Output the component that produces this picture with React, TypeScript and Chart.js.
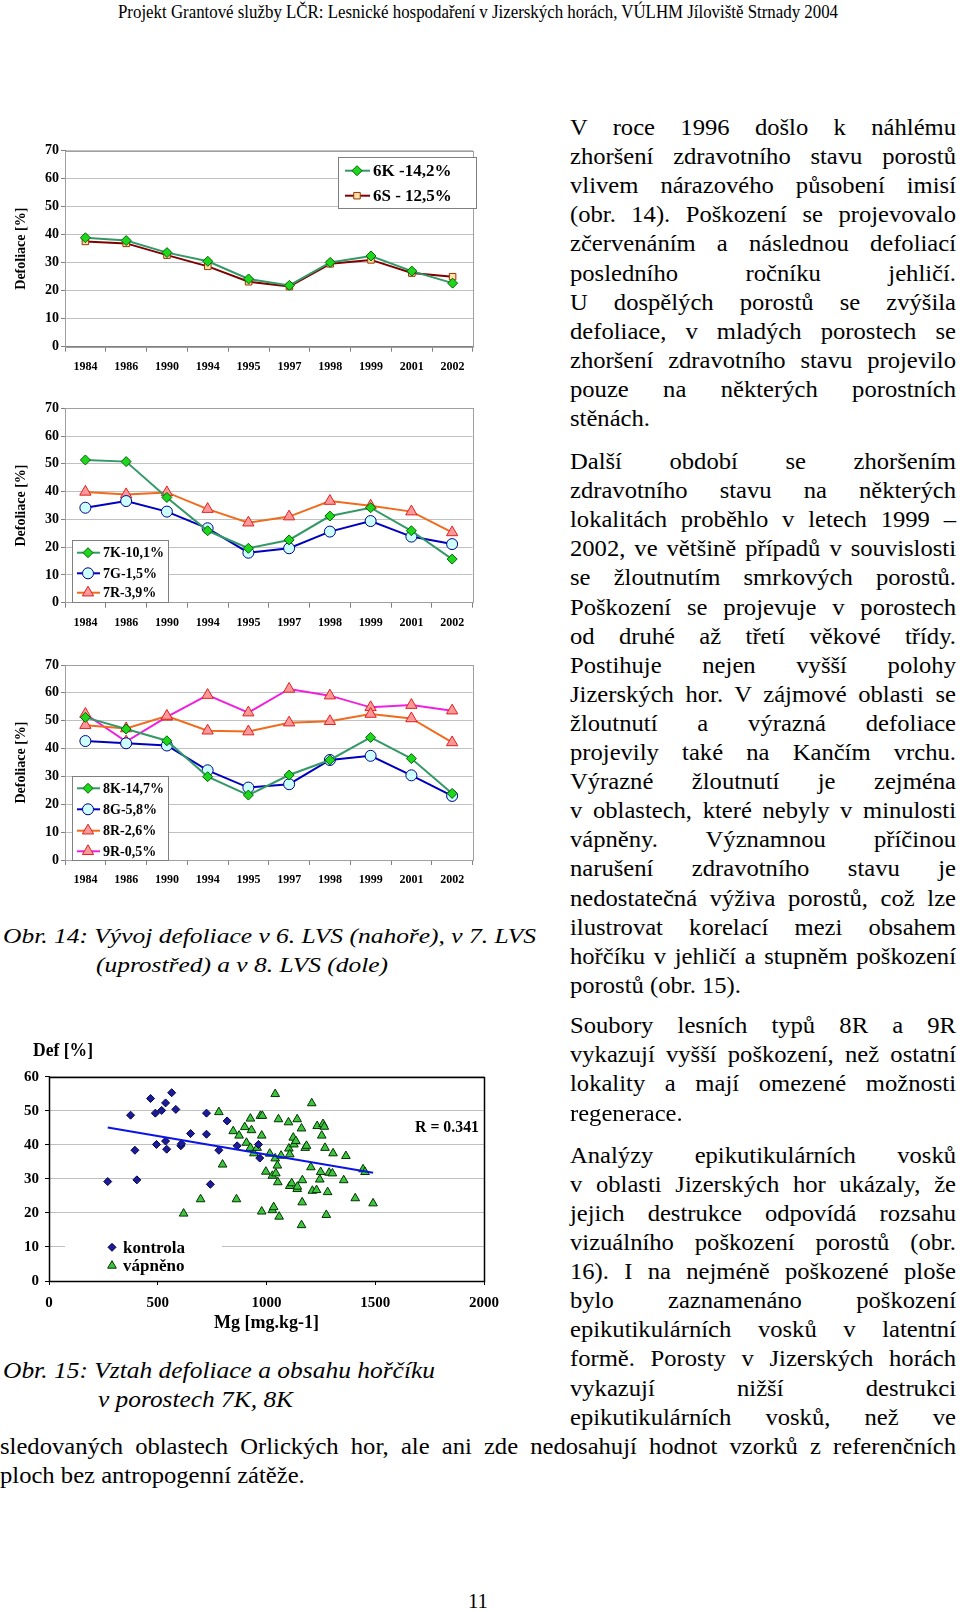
import React, { useEffect, useLayoutEffect, useRef } from 'react';
import { Chart, registerables } from 'chart.js';
Chart.register(...registerables);

const FONT = '"Liberation Serif", "Times New Roman", Times, serif';
Chart.defaults.font.family = FONT;

// ---------- data ----------
const years = ['1984', '1986', '1990', '1994', '1995', '1997', '1998', '1999', '2001', '2002'];
const def6K = [38.9, 37.9, 33.6, 30.5, 24.2, 21.9, 30.1, 32.4, 27.0, 22.7];
const def6S = [37.6, 36.9, 32.7, 28.7, 23.2, 21.5, 29.6, 31.0, 26.3, 25.0];
const def7K = [51.4, 50.8, 37.9, 25.9, 19.6, 22.6, 31.2, 34.2, 25.9, 15.7];
const def7G = [34.2, 36.6, 32.8, 26.8, 18.0, 19.6, 25.6, 29.4, 23.8, 21.1];
const def7R = [39.9, 39.0, 39.7, 33.7, 28.8, 31.0, 36.6, 34.9, 32.8, 25.3];
const def8K = [51.2, 47.0, 42.8, 29.9, 23.3, 30.5, 35.9, 44.0, 36.4, 23.9];
const def8G = [42.7, 41.9, 41.1, 32.2, 26.0, 27.2, 35.9, 37.4, 30.4, 23.0];
const def8R = [48.4, 47.2, 51.7, 46.4, 46.1, 49.3, 49.8, 52.4, 50.8, 42.2];
const def9R = [52.4, 42.5, 51.4, 59.2, 52.9, 61.4, 59.0, 54.8, 55.6, 53.6];
const defAxisMax = 70;
const defAxisStep = 10;

const kontrolaMg = [270, 375, 395, 404, 467, 489, 494, 518, 536, 536, 541, 564, 583, 606, 609, 651, 724, 724, 742, 781, 819, 865, 963, 969];
const kontrolaDef = [29.2, 48.7, 38.4, 29.7, 53.6, 49.3, 40.1, 50.1, 52.3, 41.1, 38.7, 55.3, 50.4, 39.7, 40.3, 43.3, 49.3, 43.1, 28.4, 38.4, 47.0, 39.7, 40.1, 36.1];
const vapnenoMg = [619, 697, 781, 798, 847, 862, 874, 900, 908, 926, 931, 926, 942, 957, 972, 981, 978, 978, 997, 1015, 1027, 1027, 1033, 1040, 1040, 1043, 1050, 1052, 1055, 1058, 1067, 1101, 1103, 1107, 1107, 1116, 1123, 1126, 1135, 1141, 1141, 1142, 1161, 1164, 1161, 1165, 1178, 1184, 1204, 1208, 1211, 1230, 1233, 1245, 1249, 1254, 1260, 1266, 1269, 1275, 1281, 1288, 1303, 1306, 1355, 1365, 1408, 1444, 1453, 1490];
const vapnenoDef = [19.8, 24.0, 49.6, 34.2, 44.0, 24.0, 42.7, 45.2, 40.6, 47.7, 44.3, 39.1, 37.5, 39.1, 48.5, 48.5, 42.7, 20.4, 32.1, 37.4, 30.9, 20.8, 21.7, 54.9, 36.0, 31.6, 33.9, 29.0, 47.5, 18.9, 36.8, 46.6, 38.9, 37.2, 27.9, 28.7, 42.1, 40.1, 41.1, 47.5, 27.0, 27.7, 44.8, 23.1, 16.4, 29.6, 39.1, 39.7, 33.4, 52.2, 26.5, 26.7, 45.5, 29.8, 32.0, 42.7, 46.1, 45.3, 39.1, 19.4, 26.1, 31.8, 31.6, 37.5, 29.6, 36.7, 24.3, 32.8, 32.0, 22.8];
const trendMg = [270, 1490];
const trendDef = [45.1, 31.8];
const mgAxisMax = 2000;
const mgAxisStep = 500;
const scatterDefMax = 60;

// ---------- styles ----------
const stK = { color: '#339966', pointStyle: 'rectRot', radius: 5, fill: '#1fd61f', stroke: '#006600' };
const stS = { color: '#800000', pointStyle: 'rect', radius: 4.6, fill: '#ffe0a6', stroke: '#993300' };
const stG = { color: '#0000c0', pointStyle: 'circle', radius: 5.5, fill: '#ccffff', stroke: '#000090' };
const stR = { color: '#f26b1d', pointStyle: 'triangle', radius: 6.5, fill: '#ff9999', stroke: '#e02020' };
const st9R = { color: '#f020e0', pointStyle: 'triangle', radius: 6.5, fill: '#ff9999', stroke: '#e02020' };

function drawMarker(ctx: CanvasRenderingContext2D, style: string, r: number, fill: string, stroke: string, x: number, y: number) {
  ctx.beginPath();
  if (style === 'rectRot') {
    ctx.moveTo(x, y - r); ctx.lineTo(x + r, y); ctx.lineTo(x, y + r); ctx.lineTo(x - r, y); ctx.closePath();
  } else if (style === 'rect') {
    const s = r * Math.SQRT1_2; ctx.rect(x - s, y - s, 2 * s, 2 * s);
  } else if (style === 'circle') {
    ctx.arc(x, y, r, 0, Math.PI * 2);
  } else if (style === 'triangle') {
    ctx.moveTo(x, y - r);
    ctx.lineTo(x + r * Math.sin(2 * Math.PI / 3), y - r * Math.cos(2 * Math.PI / 3));
    ctx.lineTo(x + r * Math.sin(4 * Math.PI / 3), y - r * Math.cos(4 * Math.PI / 3));
    ctx.closePath();
  }
  ctx.fillStyle = fill; ctx.fill();
  ctx.lineWidth = 1; ctx.strokeStyle = stroke; ctx.stroke();
}

const framePlugin = {
  id: 'frame',
  beforeDatasetsDraw(chart: any, _a: any, o: any) {
    if (!o || !o.color) return;
    const { ctx, chartArea } = chart;
    ctx.save();
    ctx.strokeStyle = o.color; ctx.lineWidth = o.width || 1;
    ctx.strokeRect(Math.round(chartArea.left) + 0.5, Math.round(chartArea.top) + 0.5,
      Math.round(chartArea.right - chartArea.left), Math.round(chartArea.bottom - chartArea.top));
    ctx.restore();
  },
};

const boxLegendPlugin = {
  id: 'boxLegend',
  afterDraw(chart: any, _a: any, o: any) {
    if (!o || !o.items) return;
    const ctx: CanvasRenderingContext2D = chart.ctx;
    ctx.save();
    const [bx0, by0, bx1, by1] = o.box;
    ctx.fillStyle = '#fff';
    ctx.fillRect(bx0, by0, bx1 - bx0, by1 - by0);
    if (o.stroke) { ctx.strokeStyle = o.stroke; ctx.lineWidth = 1; ctx.strokeRect(bx0 + 0.5, by0 + 0.5, bx1 - bx0, by1 - by0); }
    o.items.forEach((di: number, i: number) => {
      const ds = chart.data.datasets[di];
      const y = o.itemY[i];
      if (o.line) {
        ctx.beginPath(); ctx.strokeStyle = ds.borderColor; ctx.lineWidth = ds.borderWidth || 2;
        ctx.moveTo(o.line[0], y); ctx.lineTo(o.line[1], y); ctx.stroke();
      }
      drawMarker(ctx, ds.pointStyle, ds.pointRadius, ds.pointBackgroundColor, ds.pointBorderColor, o.markerX, y);
      ctx.fillStyle = '#000'; ctx.font = o.font; ctx.textBaseline = 'middle'; ctx.textAlign = 'left';
      ctx.fillText(ds.label, o.textX, y + 1);
    });
    ctx.restore();
  },
};

function lineDs(label: string, data: number[], st: any) {
  return {
    label, data, borderColor: st.color, borderWidth: 2, pointStyle: st.pointStyle, pointRadius: st.radius,
    pointBackgroundColor: st.fill, pointBorderColor: st.stroke, pointBorderWidth: 1, tension: 0, fill: false,
  };
}

function lineConfig(datasets: any[], padTop: number, xH: number, legend: any) {
  return {
    type: 'line',
    data: { labels: years, datasets },
    options: {
      responsive: false, animation: false,
      layout: { padding: { left: 0, right: 7, top: padTop, bottom: 0 } },
      plugins: { legend: { display: false }, tooltip: { enabled: false }, frame: { color: '#a0a0a0' }, boxLegend: legend },
      scales: {
        x: {
          offset: true,
          grid: { offset: true, drawOnChartArea: false, tickLength: 5, color: '#808080' },
          border: { color: '#808080' },
          ticks: { font: { family: FONT, size: 12, weight: 'bold' }, color: '#000', padding: 8, maxRotation: 0, autoSkip: false },
          afterFit: (s: any) => { s.height = xH; },
        },
        y: {
          min: 0, max: defAxisMax,
          ticks: { stepSize: defAxisStep, font: { family: FONT, size: 14, weight: 'bold' }, color: '#000', padding: 2 },
          grid: { color: '#c0c0c0', tickColor: '#808080', tickLength: 4 },
          border: { color: '#808080' },
          title: { display: true, text: 'Defoliace [%]', color: '#000', font: { family: FONT, size: 14, weight: 'bold' }, padding: { top: 13, bottom: 0 } },
          afterFit: (s: any) => { s.width = 65; },
        },
      },
    },
    plugins: [framePlugin, boxLegendPlugin],
  };
}

function chart1Config() {
  return lineConfig([lineDs('6K -14,2%', def6K, stK), lineDs('6S - 12,5%', def6S, stS)], 10.7, 33.3,
    { box: [338, 17, 476, 68], stroke: '#808080', items: [0, 1], itemY: [30.7, 55.7], line: [345, 370], markerX: 357, textX: 373, font: `bold 17px ${FONT}` });
}
function chart2Config() {
  return lineConfig([lineDs('7K-10,1%', def7K, stK), lineDs('7G-1,5%', def7G, stG), lineDs('7R-3,9%', def7R, stR)], 18.3, 32.3,
    { box: [72, 150, 168, 212], stroke: '#808080', items: [0, 1, 2], itemY: [162.7, 183.3, 202.7], line: [77, 100], markerX: 88, textX: 103, font: `bold 14px ${FONT}` });
}
function chart3Config() {
  return lineConfig([lineDs('8K-14,7%', def8K, stK), lineDs('8G-5,8%', def8G, stG), lineDs('8R-2,6%', def8R, stR), lineDs('9R-0,5%', def9R, st9R)], 20, 35,
    { box: [72, 131, 168, 215], stroke: '#808080', items: [0, 1, 2, 3], itemY: [143.3, 164.3, 185.7, 206.3], line: [77, 100], markerX: 88, textX: 103, font: `bold 14px ${FONT}` });
}

function scatterConfig() {
  return {
    type: 'scatter',
    data: {
      datasets: [
        { type: 'line', label: 'trend', data: trendMg.map((x, i) => ({ x, y: trendDef[i] })), showLine: true, borderColor: '#0a14e6', borderWidth: 2, pointRadius: 0, fill: false },
        { label: 'kontrola', data: kontrolaMg.map((x, i) => ({ x, y: kontrolaDef[i] })), pointStyle: 'rectRot', pointRadius: 4, pointBackgroundColor: '#1c1c96', pointBorderColor: '#000050', pointBorderWidth: 1 },
        { label: 'vápněno', data: vapnenoMg.map((x, i) => ({ x, y: vapnenoDef[i] })), pointStyle: 'triangle', pointRadius: 5, pointBackgroundColor: '#3fc43f', pointBorderColor: '#003300', pointBorderWidth: 1 },
      ],
    },
    options: {
      responsive: false, animation: false,
      layout: { padding: { left: 0, right: 36, top: 46.7, bottom: 0 } },
      plugins: {
        legend: { display: false }, tooltip: { enabled: false },
        frame: { color: '#000', width: 1.5 },
        boxLegend: { box: [65, 206, 222, 246], items: [1, 2], itemY: [217.3, 235.7], markerX: 112, textX: 123, font: `bold 17px ${FONT}` },
      },
      scales: {
        x: {
          type: 'linear', min: 0, max: mgAxisMax,
          ticks: { stepSize: mgAxisStep, font: { family: FONT, size: 15, weight: 'bold' }, color: '#000', padding: 9, callback: (v: any) => String(v) },
          grid: { drawOnChartArea: false, tickLength: 4, color: '#000' },
          border: { color: '#000' },
          title: { display: true, text: 'Mg [mg.kg-1]', color: '#000', font: { family: FONT, size: 18, weight: 'bold' }, padding: { top: 0, bottom: 16 } },
          afterFit: (s: any) => { s.height = 69; },
        },
        y: {
          min: 0, max: scatterDefMax,
          ticks: { stepSize: 10, font: { family: FONT, size: 15, weight: 'bold' }, color: '#000', padding: 6, callback: (v: any) => String(v) },
          grid: { color: '#c0c0c0', tickColor: '#000', tickLength: 4 },
          border: { color: '#000' },
          afterFit: (s: any) => { s.width = 49; },
        },
      },
    },
    plugins: [framePlugin, boxLegendPlugin],
  };
}

function ChartCanvas({ left, top, width, height, make }: { left: number; top: number; width: number; height: number; make: () => any }) {
  const ref = useRef<HTMLCanvasElement>(null);
  useEffect(() => {
    const c = new Chart(ref.current as HTMLCanvasElement, make());
    return () => c.destroy();
  }, []);
  return <canvas ref={ref} width={width} height={height} style={{ position: 'absolute', left, top, width, height }} />;
}

// ---------- text ----------
type Mode = 'justify' | 'left' | 'fit';
function TextLine({ text, left, cy, width, size, italic, bold, mode, lh = 29, sx = 1 }:
  { text: string; left: number; cy: number; width: number; size: number; italic?: boolean; bold?: boolean; mode: Mode; lh?: number; sx?: number }) {
  const ref = useRef<HTMLSpanElement>(null);
  useLayoutEffect(() => {
    const apply = () => {
      const el = ref.current; if (!el) return;
      el.style.wordSpacing = '0px'; el.style.transform = 'none';
      const w = el.getBoundingClientRect().width;
      const n = (text.match(/ /g) || []).length;
      if (mode === 'fit') { el.style.transform = `scaleX(${width / w})`; return; }
      let s = sx;
      if (w * s > width) s = width / w;
      if (mode === 'justify' && n > 0 && w * s < width) el.style.wordSpacing = `${(width / s - w) / n}px`;
      el.style.transform = `scaleX(${s})`;
    };
    apply();
    const fs: any = (document as any).fonts;
    if (fs && fs.ready) fs.ready.then(apply);
  }, [text, width, mode, sx]);
  return (
    <span ref={ref} style={{
      position: 'absolute', left, top: cy - lh / 2, height: lh, lineHeight: `${lh}px`, fontSize: size,
      fontStyle: italic ? 'italic' : 'normal', fontWeight: bold ? 'bold' : 'normal', whiteSpace: 'pre',
      display: 'inline-block', transformOrigin: '0 50%',
    }}>{text}</span>
  );
}

const para1 = [
  'V roce 1996 došlo k náhlému',
  'zhoršení zdravotního stavu porostů',
  'vlivem nárazového působení imisí',
  '(obr. 14). Poškození se projevovalo',
  'zčervenáním a následnou defoliací',
  'posledního ročníku jehličí.',
  'U dospělých porostů se zvýšila',
  'defoliace, v mladých porostech se',
  'zhoršení zdravotního stavu projevilo',
  'pouze na některých porostních',
  'stěnách.',
];
const para2 = [
  'Další období se zhoršením',
  'zdravotního stavu na některých',
  'lokalitách proběhlo v letech 1999 –',
  '2002, ve většině případů v souvislosti',
  'se žloutnutím smrkových porostů.',
  'Poškození se projevuje v porostech',
  'od druhé až třetí věkové třídy.',
  'Postihuje nejen vyšší polohy',
  'Jizerských hor. V zájmové oblasti se',
  'žloutnutí a výrazná defoliace',
  'projevily také na Kančím vrchu.',
  'Výrazné žloutnutí je zejména',
  'v oblastech, které nebyly v minulosti',
  'vápněny. Významnou příčinou',
  'narušení zdravotního stavu je',
  'nedostatečná výživa porostů, což lze',
  'ilustrovat korelací mezi obsahem',
  'hořčíku v jehličí a stupněm poškození',
  'porostů (obr. 15).',
];
const para3 = [
  'Soubory lesních typů 8R a 9R',
  'vykazují vyšší poškození, než ostatní',
  'lokality a mají omezené možnosti',
  'regenerace.',
];
const para4 = [
  'Analýzy epikutikulárních vosků',
  'v oblasti Jizerských hor ukázaly, že',
  'jejich destrukce odpovídá rozsahu',
  'vizuálního poškození porostů (obr.',
  '16). I na nejméně poškozené ploše',
  'bylo zaznamenáno poškození',
  'epikutikulárních vosků v latentní',
  'formě. Porosty v Jizerských horách',
  'vykazují nižší destrukci',
  'epikutikulárních vosků, než ve',
];
const para4full = [
  'sledovaných oblastech Orlických hor, ale ani zde nedosahují hodnot vzorků z referenčních',
  'ploch bez antropogenní zátěže.',
];

const STEP = 29.1;
const COL_L = 570;
const COL_W = 386;
const BODY_SIZE = 23;
const BODY_SX = 1.07;

function Paragraph({ lines, y0, left, width, lastLeft = true }: { lines: string[]; y0: number; left: number; width: number; lastLeft?: boolean }) {
  return (
    <>
      {lines.map((t, i) => (
        <TextLine key={i} text={t} left={left} width={width} cy={y0 + i * STEP} size={BODY_SIZE} sx={BODY_SX}
          mode={i === lines.length - 1 && lastLeft ? 'left' : 'justify'} />
      ))}
    </>
  );
}

export default function App() {
  return (
    <div style={{ position: 'absolute', left: 0, top: 0, width: 960, height: 1612, background: '#fff', color: '#000', fontFamily: FONT, overflow: 'hidden' }}>
      <TextLine text="Projekt Grantové služby LČR: Lesnické hospodaření v Jizerských horách, VÚLHM Jíloviště Strnady 2004"
        left={118} cy={12} width={720} size={18} mode="fit" lh={22} />

      <ChartCanvas left={0} top={140} width={480} height={240} make={chart1Config} />
      <ChartCanvas left={0} top={390} width={480} height={245} make={chart2Config} />
      <ChartCanvas left={0} top={645} width={480} height={250} make={chart3Config} />

      <TextLine text="Obr. 14: Vývoj defoliace v 6. LVS (nahoře), v 7. LVS" left={3} cy={935} width={533} size={22} italic mode="fit" />
      <TextLine text="(uprostřed) a v 8. LVS (dole)" left={96} cy={964} width={292} size={22} italic mode="fit" />

      <ChartCanvas left={0} top={1030} width={520} height={320} make={scatterConfig} />
      <TextLine text="Def [%]" left={33} cy={1050} width={60} size={18} bold mode="left" lh={22} />
      <TextLine text="R = 0.341" left={415} cy={1127} width={64} size={16} bold mode="left" lh={20} />

      <TextLine text="Obr. 15: Vztah defoliace a obsahu hořčíku" left={3} cy={1370} width={432} size={23} italic mode="fit" />
      <TextLine text="v porostech 7K, 8K" left={98} cy={1399} width={195} size={23} italic mode="fit" />

      <Paragraph lines={para1} y0={127.5} left={COL_L} width={COL_W} />
      <Paragraph lines={para2} y0={461.5} left={COL_L} width={COL_W} />
      <Paragraph lines={para3} y0={1025.7} left={COL_L} width={COL_W} />
      <Paragraph lines={para4} y0={1155.2} left={COL_L} width={COL_W} lastLeft={false} />
      <Paragraph lines={para4full} y0={1155.2 + 10 * STEP} left={0} width={956} />

      <TextLine text="11" left={468} cy={1600} width={20} size={22} mode="left" />
    </div>
  );
}
